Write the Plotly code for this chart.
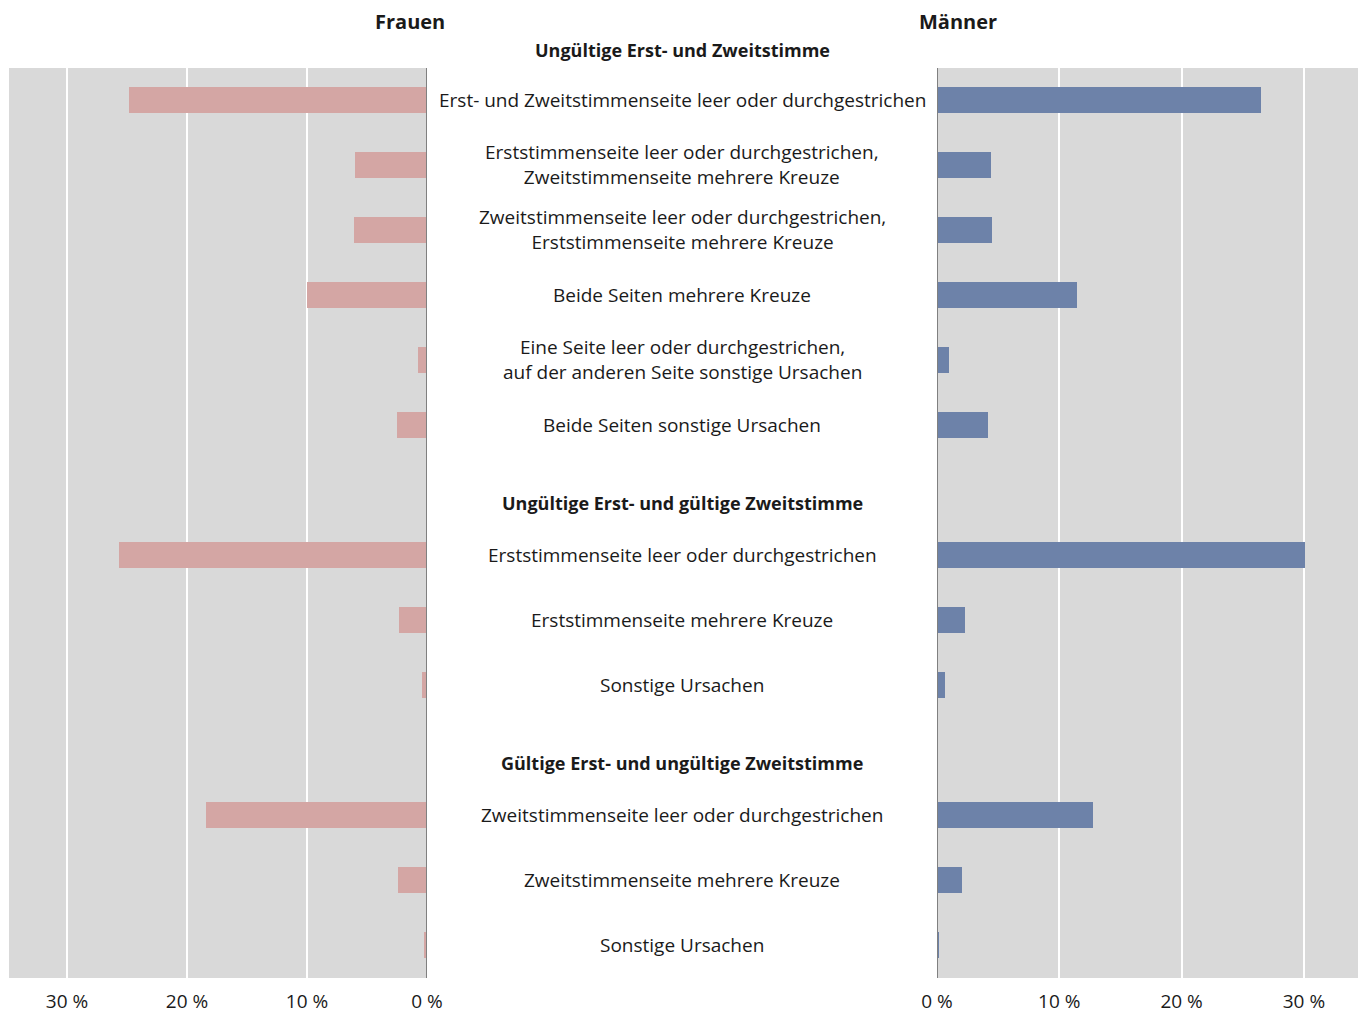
import plotly.graph_objects as go

# ---- data ----
headings = [
    "Ungültige Erst- und Zweitstimme",
    "Ungültige Erst- und gültige Zweitstimme",
    "Gültige Erst- und ungültige Zweitstimme",
]
group_sizes = [6, 3, 3]
categories = [
    "Erst- und Zweitstimmenseite leer oder durchgestrichen",
    "Erststimmenseite leer oder durchgestrichen,<br>Zweitstimmenseite mehrere Kreuze",
    "Zweitstimmenseite leer oder durchgestrichen,<br>Erststimmenseite mehrere Kreuze",
    "Beide Seiten mehrere Kreuze",
    "Eine Seite leer oder durchgestrichen,<br>auf der anderen Seite sonstige Ursachen",
    "Beide Seiten sonstige Ursachen",
    "Erststimmenseite leer oder durchgestrichen",
    "Erststimmenseite mehrere Kreuze",
    "Sonstige Ursachen",
    "Zweitstimmenseite leer oder durchgestrichen",
    "Zweitstimmenseite mehrere Kreuze",
    "Sonstige Ursachen",
]
frauen = [24.8, 6.0, 6.1, 10.0, 0.75, 2.5, 25.7, 2.3, 0.4, 18.4, 2.4, 0.25]
maenner = [26.5, 4.4, 4.5, 11.45, 1.0, 4.2, 30.1, 2.3, 0.65, 12.75, 2.05, 0.15]
tick_vals = [0, 10, 20, 30]
tick_text = ["0 %", "10 %", "20 %", "30 %"]

# ---- layout helpers ----
W, H = 1358, 1014
T, B = 68, 36
FONT = "Open Sans"
TXT = "#1a1a1a"
women_col = "#d4a6a4"
men_col = "#6d82a9"


def py(pix):
    """pixel y from top -> paper y"""
    return (H - B - pix) / (H - T - B)


# row positions: one empty slot before each group (heading slot)
pos = []
heading_pos = []
p = -1
for gi, n in enumerate(group_sizes):
    heading_pos.append(p)
    for _ in range(n):
        p += 1
        pos.append(p)
    p += 1

fig = go.Figure()
fig.add_trace(go.Bar(x=frauen, y=pos, orientation="h", marker=dict(color=women_col, line=dict(width=0)),
                     width=0.4, xaxis="x", yaxis="y", showlegend=False, hoverinfo="x"))
fig.add_trace(go.Bar(x=maenner, y=pos, orientation="h", marker=dict(color=men_col, line=dict(width=0)),
                     width=0.4, xaxis="x2", yaxis="y2", showlegend=False, hoverinfo="x"))

yr = [13.508, -0.492]
axis_common = dict(
    tickvals=tick_vals, ticktext=tick_text, showgrid=True, gridcolor="white", gridwidth=2,
    zeroline=False, showline=False, ticks="", tickfont=dict(family=FONT, size=19, color=TXT),
    ticklabelstandoff=10, fixedrange=True, automargin=False,
)
fig.update_layout(
    width=W, height=H,
    margin=dict(l=0, r=0, t=T, b=B, autoexpand=False),
    paper_bgcolor="white", plot_bgcolor="#d9d9d9",
    bargap=0,
    font=dict(family=FONT, size=19, color=TXT),
    xaxis=dict(domain=[9 / W, 427 / W], range=[34.83, 0], **axis_common),
    xaxis2=dict(domain=[937 / W, 1.0], range=[0, 34.42], anchor="y2", **axis_common),
    yaxis=dict(range=yr, visible=False, domain=[0, 1], anchor="x"),
    yaxis2=dict(range=yr, visible=False, domain=[0, 1], anchor="x2", matches="y"),
)

# zero lines
for xr in ("x", "x2"):
    fig.add_shape(type="line", xref=xr, yref="paper", x0=0, x1=0, y0=0, y1=1,
                  line=dict(color="#808080", width=2), layer="above")

# category labels in the middle
mid = (427 + 937) / 2 / W
for c, yv in zip(categories, pos):
    fig.add_annotation(x=mid, xref="paper", y=yv, yref="y", text=c, showarrow=False,
                       font=dict(family=FONT, size=19, color=TXT), xanchor="center", yanchor="middle",
                       align="center")
# group headings (first one sits above the plot area)
for i, (h, hp) in enumerate(zip(headings, heading_pos)):
    if i == 0:
        fig.add_annotation(x=mid, xref="paper", y=py(50), yref="paper", text="<b>" + h + "</b>",
                           showarrow=False, font=dict(family=FONT, size=18, color=TXT),
                           xanchor="center", yanchor="middle")
    else:
        fig.add_annotation(x=mid, xref="paper", y=hp + 0.2, yref="y", text="<b>" + h + "</b>",
                           showarrow=False, font=dict(family=FONT, size=18, color=TXT),
                           xanchor="center", yanchor="middle")

# panel titles
fig.add_annotation(x=410 / W, xref="paper", xanchor="center", y=py(22), yref="paper", yanchor="middle",
                   showarrow=False, text="<b>Frauen</b>", font=dict(family=FONT, size=20, color=TXT))
fig.add_annotation(x=958 / W, xref="paper", xanchor="center", y=py(22), yref="paper", yanchor="middle",
                   showarrow=False, text="<b>Männer</b>", font=dict(family=FONT, size=20, color=TXT))

fig.write_html("out.html", config={"displayModeBar": False},
               post_script="document.body.style.margin='0';")
